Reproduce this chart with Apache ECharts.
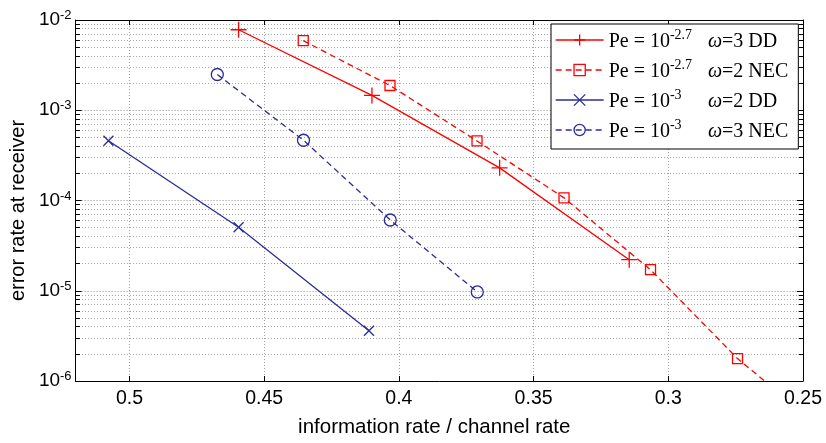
<!DOCTYPE html>
<html><head><meta charset="utf-8">
<script src="https://cdn.jsdelivr.net/npm/echarts@6/dist/echarts.min.js"></script>
<style>html,body{margin:0;padding:0;background:#fff}#c{width:826px;height:443px}</style>
</head><body><div id="c"></div>
<script>
// ---- data ----
const xTicks = [0.5, 0.45, 0.4, 0.35, 0.3, 0.25];
const yDecades = [-6, -5, -4, -3, -2];
const minorMantissas = [2, 3, 4, 5, 6, 7, 8, 9];

const seriesNames = ['DD27', 'NEC27', 'DD3', 'NEC3'];
const peExp = ['-2.7', '-2.7', '-3', '-3'];
const omegaVal = ['3', '2', '2', '3'];
const schemeName = ['DD', 'NEC', 'DD', 'NEC'];

const ddRedX = [0.4595, 0.410, 0.3626, 0.3145];
const ddRedY = [7.8e-3, 1.46e-3, 2.3e-4, 2.21e-5];
const necRedX = [0.4355, 0.4033, 0.371, 0.3387, 0.3066, 0.2743, 0.2421];
const necRedY = [5.9e-3, 1.88e-3, 4.57e-4, 1.07e-4, 1.71e-5, 1.77e-6, 2.85e-7];
const ddBlueX = [0.5078, 0.4595, 0.4111];
const ddBlueY = [4.6e-4, 5.05e-5, 3.6e-6];
const necBlueX = [0.4674, 0.4354, 0.4032, 0.3709];
const necBlueY = [2.49e-3, 4.65e-4, 6.08e-5, 9.7e-6];

// ---- build ----
const RED = '#ff0000', BLUE = '#2b2b9b';
const X_MIN = 0.25, X_MAX = 0.52;
const zip = (a, b) => a.map((v, i) => [v, b[i]]);

const minorVals = [];
yDecades.slice(0, -1).forEach(k => minorMantissas.forEach(m => minorVals.push(m * Math.pow(10, k))));
const markData = [];
minorVals.forEach(v => {
  markData.push({ yAxis: v, lineStyle: { color: '#a8a8a8', type: [1, 2], width: 1 } });
});
const tickLen = 0.0016;
minorVals.forEach(v => {
  markData.push([{ coord: [X_MAX, v], lineStyle: { color: '#000', type: 'solid', width: 1 } }, { coord: [X_MAX - tickLen, v] }]);
  markData.push([{ coord: [X_MIN, v], lineStyle: { color: '#000', type: 'solid', width: 1 } }, { coord: [X_MIN + tickLen, v] }]);
});

const plusPath = 'path://M0,5L10,5M5,0L5,10';
const crossPath = 'path://M0,0L10,10M10,0L0,10';

function mkSeries(name, x, y, color, dashed, symbol, size) {
  return {
    name, type: 'line', data: zip(x, y),
    symbol, symbolSize: size, showAllSymbol: true,
    lineStyle: { color, width: 1.3, type: dashed ? [6, 4] : 'solid' },
    itemStyle: { color: 'rgba(0,0,0,0)', borderColor: color, borderWidth: 1.3 },
    emphasis: { disabled: true }, z: 3, clip: true, animation: false
  };
}

const axisFont = 'Liberation Sans';
const serif = 'Liberation Serif';

const s0 = mkSeries(seriesNames[0], ddRedX, ddRedY, RED, false, plusPath, 16);
s0.markLine = { silent: true, precision: 20, symbol: ['none', 'none'], label: { show: false }, animation: false, z: 1, data: markData };

const option = {
  animation: false,
  grid: { left: 72, right: 23, top: 20, bottom: 59 },
  xAxis: [{
    type: 'value', position: 'bottom', inverse: true, min: X_MIN, max: X_MAX, interval: 0.05,
    name: 'information rate / channel rate', nameLocation: 'middle', nameGap: 36,
    nameTextStyle: { fontFamily: axisFont, fontSize: 20.5, color: '#000', padding: [0, 10, 0, 0] },
    axisLine: { lineStyle: { color: '#000', width: 1 } },
    axisTick: { inside: true, length: 5, lineStyle: { color: '#000' } },
    axisLabel: {
      fontFamily: axisFont, fontSize: 19.5, color: '#000', margin: 8,
      formatter: v => { const t = xTicks.find(tk => Math.abs(tk - v) < 1e-9); return t === undefined ? '' : String(t); }
    },
    splitLine: { show: true, lineStyle: { color: '#a0a0a0', type: [1, 2], width: 1 } }
  }, {
    type: 'value', position: 'top', inverse: true, min: X_MIN, max: X_MAX, interval: 0.05,
    axisLine: { lineStyle: { color: '#000', width: 1 } },
    axisTick: { inside: true, length: 5, lineStyle: { color: '#000' } },
    axisLabel: { show: false }, splitLine: { show: false }
  }],
  yAxis: [{
    type: 'log', logBase: 10, min: 1e-6, max: 1e-2, position: 'left',
    name: 'error rate at receiver', nameLocation: 'middle', nameGap: 41,
    nameTextStyle: { fontFamily: axisFont, fontSize: 20, color: '#000', padding: [0, 20, 0, 0] },
    axisLine: { lineStyle: { color: '#000', width: 1 } },
    axisTick: { inside: true, length: 6, lineStyle: { color: '#000' } },
    axisLabel: {
      margin: 4, color: '#000',
      formatter: v => '{b|10}{s|' + Math.round(Math.log10(v)) + '}',
      rich: {
        b: { fontFamily: axisFont, fontSize: 19, lineHeight: 22, color: '#000' },
        s: { fontFamily: axisFont, fontSize: 13, lineHeight: 13, verticalAlign: 'top', color: '#000' }
      }
    },
    splitLine: { show: true, lineStyle: { color: '#909090', type: [1, 2], width: 1 } }
  }, {
    type: 'log', logBase: 10, min: 1e-6, max: 1e-2, position: 'right',
    axisLine: { lineStyle: { color: '#000', width: 1 } },
    axisTick: { inside: true, length: 6, lineStyle: { color: '#000' } },
    axisLabel: { show: false }, splitLine: { show: false }
  }],
  legend: {
    orient: 'vertical', left: 551, top: 24,
    padding: [4, 10, 7, 4], itemGap: 6, itemWidth: 48, itemHeight: 14, itemTextGap: 9,
    borderColor: '#000', borderWidth: 1, backgroundColor: '#fff',
    data: seriesNames,
    selectedMode: false,
    lineStyle: { width: 1.3 },
    itemStyle: { borderWidth: 1.3 },
    formatter: name => {
      const i = seriesNames.indexOf(name);
      return '{p|Pe = 10}{s|' + peExp[i] + '}{w|ω}{p|=' + omegaVal[i] + ' ' + schemeName[i] + '}';
    },
    textStyle: {
      fontFamily: serif, fontSize: 20, color: '#000',
      rich: {
        p: { fontFamily: serif, fontSize: 20, lineHeight: 24, padding: [4, 0, 0, 0], color: '#000' },
        s: { fontFamily: serif, fontSize: 14, lineHeight: 14, verticalAlign: 'top', width: 38, color: '#000' },
        w: { fontFamily: serif, fontSize: 20, fontStyle: 'italic', lineHeight: 24, padding: [4, 0, 0, 0], color: '#000' }
      }
    },
    z: 10
  },
  series: [
    s0,
    mkSeries(seriesNames[1], necRedX, necRedY, RED, true, 'rect', 10),
    mkSeries(seriesNames[2], ddBlueX, ddBlueY, BLUE, false, crossPath, 10),
    mkSeries(seriesNames[3], necBlueX, necBlueY, BLUE, true, 'circle', 12)
  ]
};

const chart = echarts.init(document.getElementById('c'), null, { renderer: 'canvas' });
chart.setOption(option);
</script>
</body></html>
